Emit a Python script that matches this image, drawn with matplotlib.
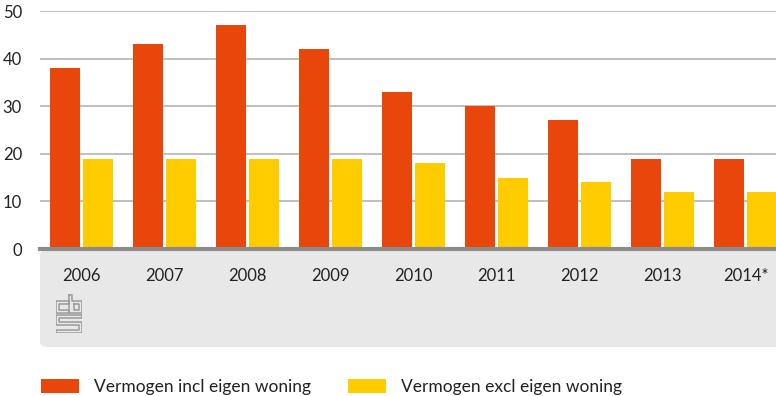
import matplotlib
matplotlib.use("Agg")
import matplotlib.pyplot as plt
from matplotlib.patches import FancyBboxPatch, Patch
from matplotlib.lines import Line2D
import numpy as np

plt.rcParams['font.family'] = ['Lato', 'DejaVu Sans']

years = ["2006", "2007", "2008", "2009", "2010", "2011", "2012", "2013", "2014*"]
incl_woning = [38, 43, 47, 42, 33, 30, 27, 19, 19]
excl_woning = [19, 19, 19, 19, 18, 15, 14, 12, 12]
series_names = ["Vermogen incl eigen woning", "Vermogen excl eigen woning"]
y_ticks = [0, 10, 20, 30, 40, 50]

RED = "#e8460a"
YELLOW = "#ffcc00"
TEXT = "#222222"

W, H = 776, 396
fig = plt.figure(figsize=(W / 100, H / 100), dpi=100)

def fx(px):
    return px / W

def fy(py):
    return 1 - py / H

# grey panel under the category axis
panel = FancyBboxPatch((fx(40), fy(347)), fx(800) - fx(40), fy(250) - fy(347),
                       boxstyle="round,pad=0,rounding_size=0.012",
                       transform=fig.transFigure, facecolor="#e8e8e8",
                       edgecolor="none", zorder=-5)
fig.patches.append(panel)

slot = 83.0
ax_left, ax_right, ax_top, ax_bottom = 40, 776, 11, 249
ax = fig.add_axes([fx(ax_left), fy(ax_bottom), fx(ax_right - ax_left), fy(ax_top) - fy(ax_bottom)])
ax.set_facecolor("none")

x = np.arange(len(years))
bw = 30 / slot
off = 16.5 / slot
ax.bar(x - off, incl_woning, width=bw, color=RED, zorder=2, label=series_names[0])
ax.bar(x + off, excl_woning, width=bw, color=YELLOW, zorder=2, label=series_names[1])

ax.set_xlim(-0.5, -0.5 + (ax_right - ax_left) / slot)
ax.set_ylim(0, 50)
ax.set_yticks(y_ticks)
ax.yaxis.grid(True, color="#b4b4b4", linewidth=1.2, zorder=0)
ax.set_axisbelow(True)
for s in ["top", "right", "left"]:
    ax.spines[s].set_visible(False)
ax.spines["bottom"].set_color("#8c8c8c")
ax.spines["bottom"].set_linewidth(3)
ax.spines["bottom"].set_zorder(3)

ax.set_xticks(x)
ax.set_xticklabels(years)
ax.tick_params(axis="x", length=0, pad=14, labelsize=12, colors=TEXT)
ax.tick_params(axis="y", length=0, pad=13, labelsize=12, colors=TEXT)
for lbl in ax.get_yticklabels():
    lbl.set_horizontalalignment("right")

# small CBS logo drawn as outlined strokes
logo = fig.add_axes([fx(56), fy(333), fx(26), fy(294) - fy(333)])
logo.set_xlim(-0.5, 26.5)
logo.set_ylim(38.5, -0.5)
logo.axis("off")
grey = "#9a9a9a"
paths = [
    [(13, 6), (0, 6), (0, 18), (13, 18), (13, 15), (3, 15), (3, 9), (13, 9), (13, 6)],
    [(13, 0), (16, 0), (16, 6), (26, 6), (26, 18), (13, 18), (13, 0)],
    [(18.5, 9), (23.5, 9), (23.5, 15), (18.5, 15), (18.5, 9)],
    [(26, 20), (0, 20), (0, 30), (23, 30), (23, 35), (0, 35), (0, 38), (26, 38),
     (26, 27), (3, 27), (3, 23), (26, 23), (26, 20)],
]
for p in paths:
    px_, py_ = zip(*p)
    logo.add_line(Line2D(px_, py_, color=grey, linewidth=1.1))

handles = [Patch(facecolor=RED, edgecolor="none"), Patch(facecolor=YELLOW, edgecolor="none")]
fig.legend(handles, series_names, loc="lower left", ncol=2, frameon=False,
           bbox_to_anchor=(fx(41), fy(395)), borderpad=0, borderaxespad=0,
           handlelength=2.2, handleheight=0.9, handletextpad=0.85,
           columnspacing=2.15, fontsize=12.5, labelcolor=TEXT)

fig.savefig("out.png", dpi=100)
